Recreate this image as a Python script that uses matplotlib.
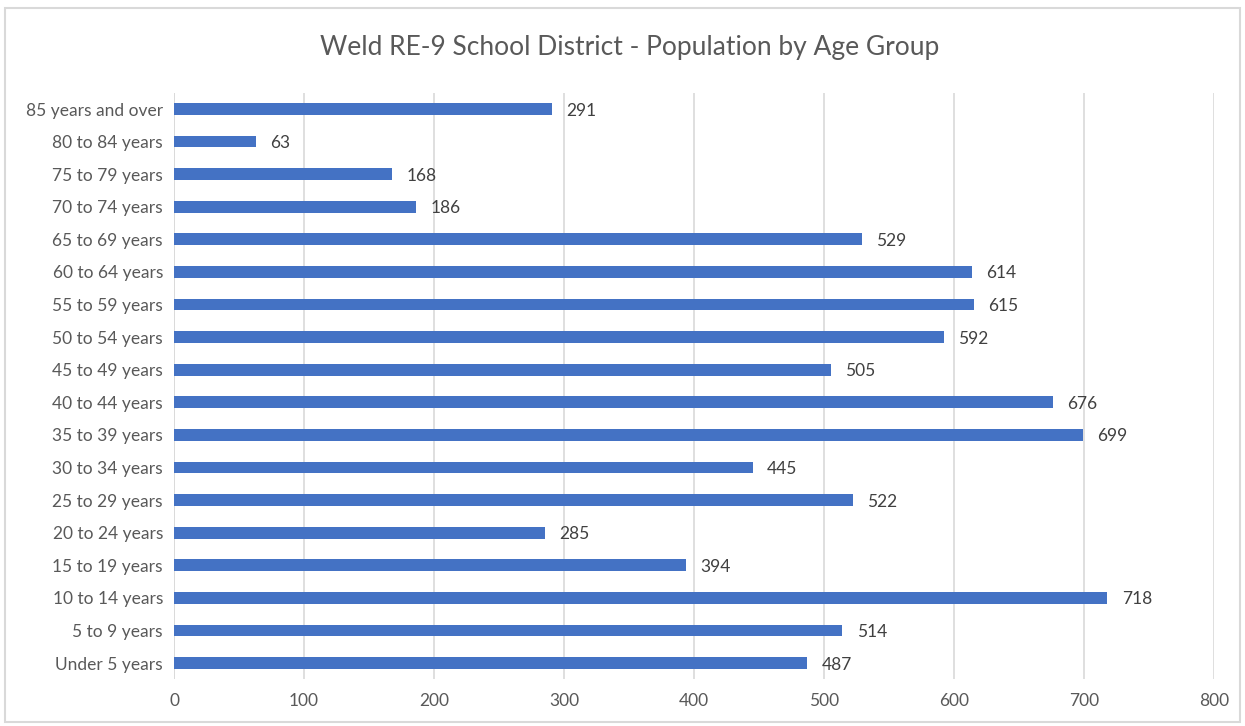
import matplotlib.pyplot as plt
from matplotlib.patches import Rectangle

plt.rcParams['font.family'] = ['Lato', 'DejaVu Sans']

age_groups = ['Under 5 years', '5 to 9 years', '10 to 14 years', '15 to 19 years',
              '20 to 24 years', '25 to 29 years', '30 to 34 years', '35 to 39 years',
              '40 to 44 years', '45 to 49 years', '50 to 54 years', '55 to 59 years',
              '60 to 64 years', '65 to 69 years', '70 to 74 years', '75 to 79 years',
              '80 to 84 years', '85 years and over']
population = [487, 514, 718, 394, 285, 522, 445, 699, 676, 505, 592, 615,
              614, 529, 186, 168, 63, 291]
x_ticks = [0, 100, 200, 300, 400, 500, 600, 700, 800]

text_color = '#595959'
bar_color = '#4472c4'

fig = plt.figure(figsize=(12.45, 7.26), dpi=100)
ax = fig.add_axes([0.1398, 0.0643, 0.8353, 0.808])

ypos = range(len(age_groups))
ax.barh(ypos, population, height=0.36, color=bar_color, zorder=3)
for y, v in zip(ypos, population):
    ax.text(v + 11, y, str(v), va='center_baseline', ha='left', fontsize=12.5,
            color='#404040')

ax.set_xlim(0, 800)
ax.set_ylim(-0.5, len(age_groups) - 0.5)
ax.set_xticks(x_ticks)
ax.set_yticks(list(ypos))
ax.set_yticklabels(age_groups)
ax.tick_params(axis='both', length=0, labelsize=12.5, labelcolor=text_color)
ax.tick_params(axis='x', pad=10)
ax.tick_params(axis='y', pad=8)
ax.grid(axis='x', color='#d9d9d9', linewidth=1.2, zorder=0)
for s in ax.spines.values():
    s.set_visible(False)
ax.axvline(0, color='#d9d9d9', linewidth=1.2, zorder=1)

fig.text(0.506, 0.935, 'Weld RE-9 School District - Population by Age Group',
         ha='center', va='center', fontsize=19, color=text_color)

fig.patches.append(Rectangle((0.004, 0.006), 0.992, 0.983, transform=fig.transFigure,
                             fill=False, edgecolor='#d9d9d9', linewidth=1.5))

fig.savefig('out.png', dpi=100)
